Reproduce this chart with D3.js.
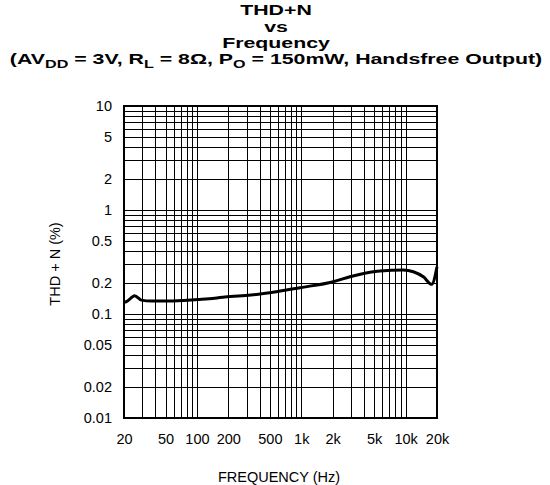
<!DOCTYPE html>
<meta charset="utf-8">
<script src="https://d3js.org/d3.v7.min.js"></script>
<style>
body { margin: 0; background: #fff; }
text { font-family: "Liberation Sans", Arial, sans-serif; fill: #000; }
.title { font-weight: bold; font-size: 14.5px; }
.tick text { font-size: 14.5px; }
.grid line { stroke: #000; stroke-width: 1; shape-rendering: crispEdges; }
</style>
<div id="chart"></div>
<script>
// data
var freq = [20, 21, 25.3, 29.3, 36.5, 52.8, 102, 148, 185, 330, 577, 973, 2028, 2932, 4558, 5686, 9509, 11860, 14790, 17790, 20000];
var thdn = [0.13, 0.131, 0.150, 0.136, 0.133, 0.133, 0.138, 0.142, 0.146, 0.152, 0.164, 0.179, 0.2045, 0.228, 0.252, 0.259, 0.265, 0.255, 0.228, 0.193, 0.285];

var xTicks = [20, 50, 100, 200, 500, 1000, 2000, 5000, 10000, 20000];
var xTickLabels = ["20", "50", "100", "200", "500", "1k", "2k", "5k", "10k", "20k"];
var yTicks = [0.01, 0.02, 0.05, 0.1, 0.2, 0.5, 1, 2, 5, 10];
var yTickLabels = ["0.01", "0.02", "0.05", "0.1", "0.2", "0.5", "1", "2", "5", "10"];

var W = 550, H = 485;
var margin = {top: 106, right: 113, bottom: 67, left: 124},
    width = W - margin.left - margin.right,
    height = H - margin.top - margin.bottom;

var svg = d3.select("#chart").append("svg")
    .attr("width", W)
    .attr("height", H);

// title (the original font is a wide, stretched bold sans)
var title = svg.append("text")
    .attr("class", "title")
    .attr("text-anchor", "middle")
    .attr("transform", "translate(276,0) scale(1.47,1)");
title.append("tspan").attr("x", 0).attr("y", 15.5).text("THD+N");
title.append("tspan").attr("x", 0).attr("y", 31.8).text("vs");
title.append("tspan").attr("x", 0).attr("y", 48.1).text("Frequency");
var t4 = title.append("tspan").attr("x", 0).attr("y", 64.4);
t4.append("tspan").text("(AV");
t4.append("tspan").attr("dy", 4).style("font-size", "11px").text("DD");
t4.append("tspan").attr("dy", -4).text(" = 3V, R");
t4.append("tspan").attr("dy", 4).style("font-size", "11px").text("L");
t4.append("tspan").attr("dy", -4).text(" = 8\u03A9, P");
t4.append("tspan").attr("dy", 4).style("font-size", "11px").text("O");
t4.append("tspan").attr("dy", -4).text(" = 150mW, Handsfree Output)");

var g = svg.append("g")
    .attr("transform", "translate(" + margin.left + "," + margin.top + ")");

var x = d3.scaleLog().domain([20, 20000]).range([0, width]);
var y = d3.scaleLog().domain([0.01, 10]).range([height, 0]);

// grid lines (every 1..9 per decade)
var xGrid = x.ticks().filter(function(d) { return d > 20 && d < 20000; });
var yGrid = y.ticks().filter(function(d) { return d > 0.01 && d < 10; });

g.append("g").attr("class", "grid")
  .selectAll("line").data(xGrid).enter().append("line")
    .attr("x1", function(d) { return Math.round(x(d)) + 0.5; })
    .attr("x2", function(d) { return Math.round(x(d)) + 0.5; })
    .attr("y1", 0).attr("y2", height);

g.append("g").attr("class", "grid")
  .selectAll("line").data(yGrid).enter().append("line")
    .attr("y1", function(d) { return Math.round(y(d)) + 0.5; })
    .attr("y2", function(d) { return Math.round(y(d)) + 0.5; })
    .attr("x1", 0).attr("x2", width);

// frame
g.append("rect")
    .attr("width", width).attr("height", height)
    .attr("fill", "none").attr("stroke", "#000").attr("stroke-width", 2);

// axes
var xAxis = g.append("g")
    .attr("transform", "translate(0," + height + ")")
    .call(d3.axisBottom(x).tickValues(xTicks)
      .tickFormat(function(d, i) { return xTickLabels[i]; })
      .tickSize(0).tickPadding(16));
xAxis.select(".domain").remove();

var yAxis = g.append("g")
    .call(d3.axisLeft(y).tickValues(yTicks)
      .tickFormat(function(d, i) { return yTickLabels[i]; })
      .tickSize(0).tickPadding(12));
yAxis.select(".domain").remove();

// axis titles
svg.append("text")
    .attr("x", 279)
    .attr("y", 482)
    .attr("text-anchor", "middle")
    .style("font-size", "14.5px")
    .text("FREQUENCY (Hz)");

svg.append("text")
    .attr("transform", "translate(60,264) rotate(-90)")
    .attr("text-anchor", "middle")
    .style("font-size", "14.5px")
    .text("THD + N (%)");

// curve
var line = d3.line()
    .x(function(d, i) { return x(freq[i]); })
    .y(function(d, i) { return y(thdn[i]); })
    .curve(d3.curveMonotoneX);

g.append("path")
    .datum(thdn)
    .attr("fill", "none")
    .attr("stroke", "#000")
    .attr("stroke-width", 3)
    .attr("stroke-linejoin", "round")
    .attr("d", line);
</script>
